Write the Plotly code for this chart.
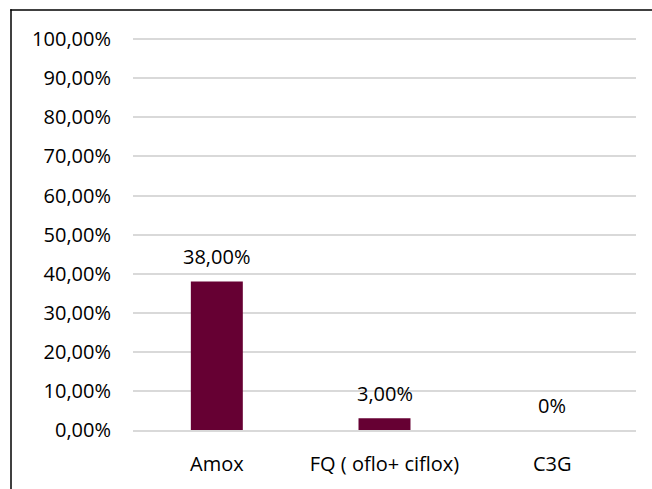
import plotly.graph_objects as go

categories = ["Amox", "FQ ( oflo+ ciflox)", "C3G"]
values = [0.38, 0.03, 0.0]
value_labels = ["38,00%", "3,00%", "0%"]
tick_vals = [i / 10 for i in range(11)]
tick_text = ["0,00%", "10,00%", "20,00%", "30,00%", "40,00%", "50,00%",
             "60,00%", "70,00%", "80,00%", "90,00%", "100,00%"]

W, H = 652, 489
L, R, T, B = 133, 16, 38, 57
pw, ph = W - L - R, H - T - B

fig = go.Figure(go.Bar(x=categories, y=values, marker_color="#660033",
                       marker_line_width=0))

for c, v, t in zip(categories, values, value_labels):
    fig.add_annotation(x=c, y=v, text=t, showarrow=False, yanchor="middle",
                       yshift=25, font=dict(size=20, color="black"))

def px_x(p):
    return (p - L) / pw

def px_y(p):
    return (H - B - p) / ph

# outer border (left and top visible)
fig.add_shape(type="line", xref="paper", yref="paper",
              x0=px_x(11), x1=px_x(11), y0=px_y(9), y1=px_y(H + 5),
              line=dict(color="black", width=1.5))
fig.add_shape(type="line", xref="paper", yref="paper",
              x0=px_x(10.25), x1=px_x(W + 5), y0=px_y(9.75), y1=px_y(9.75),
              line=dict(color="black", width=1.5))

fig.update_layout(
    width=W, height=H,
    margin=dict(l=L, r=R, t=T, b=B),
    paper_bgcolor="white", plot_bgcolor="white",
    bargap=0.69,
    showlegend=False,
    font=dict(family="Open Sans, sans-serif", size=20, color="black"),
)
fig.update_yaxes(range=[0, 1.003], tickvals=tick_vals, ticktext=tick_text,
                 showgrid=True, gridcolor="#d9d9d9", gridwidth=1.5,
                 zeroline=False, showline=False, ticks="",
                 ticklabelstandoff=21, tickfont=dict(size=20))
fig.update_xaxes(showline=True, linecolor="#d9d9d9", linewidth=1.5,
                 ticks="", ticklabelstandoff=15, tickfont=dict(size=20))

fig.write_html("out.html", config={"displayModeBar": False},
               post_script="document.body.style.margin='0';document.body.style.overflow='hidden';")
